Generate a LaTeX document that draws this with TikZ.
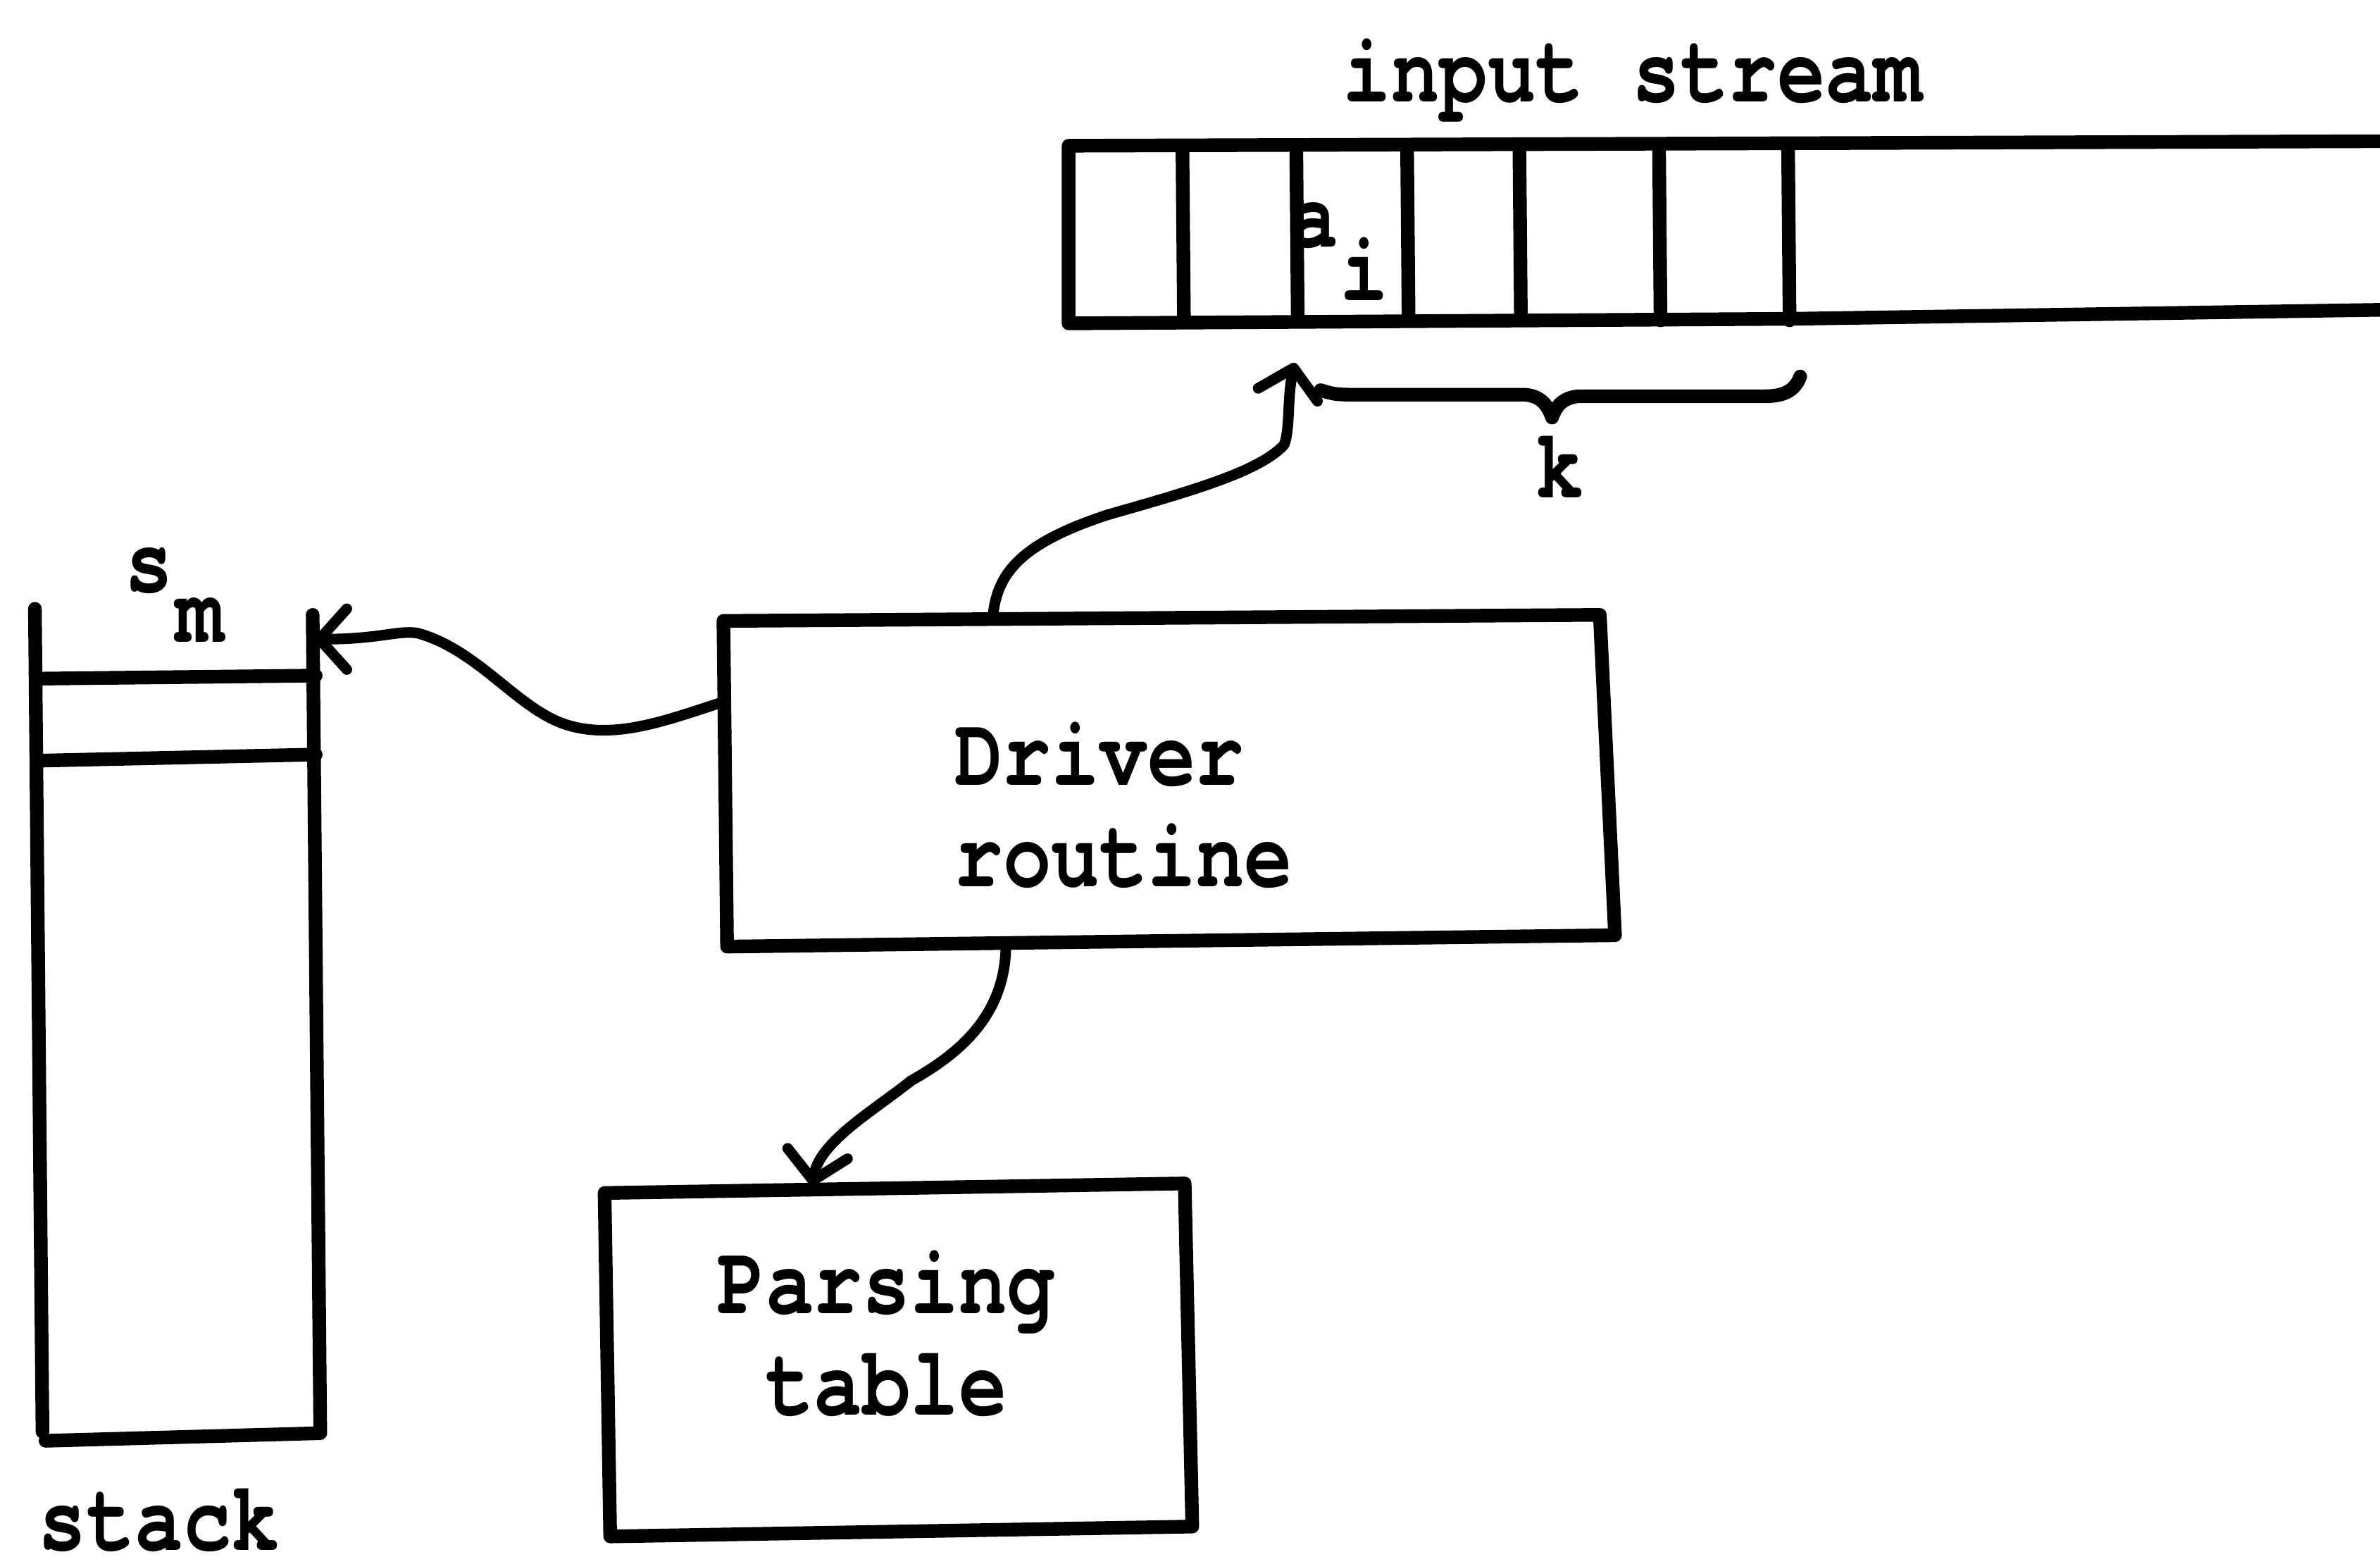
\documentclass[tikz,border=0pt]{standalone}
\usepackage{fontspec}
\newfontfamily\typewriter{texgyrecursor-bold.otf}[FakeStretch=0.815]
\usetikzlibrary{arrows.meta}
\begin{document}
\begin{tikzpicture}[x=1pt,y=-1pt,
  boxline/.style={line width=9pt, line join=round, line cap=round},
  wire/.style={line width=7pt, line join=round, line cap=round},
  tip/.style={-{Straight Barb[length=18pt,width=40pt,round]}},
  txt/.style={inner sep=0pt, anchor=base,
    font=\typewriter\fontsize{65}{67}\selectfont}]

% page
\fill[white] (0,0) rectangle (1568,1030);
\useasboundingbox (0,0) rectangle (1568,1030);

% ---------- input stream (tape) ----------
\node[txt] (inlabel) at (1075.5,67) {input stream};
\draw[boxline] (1574,93) -- (704,96) -- (704,213) -- (1180,210) -- (1574,204);
\foreach \x in {779,854,927,1001,1093,1178}
  \draw[boxline] (\x,96) -- (\x+1,211);
\node[txt] (acell) at (866,162.5) {a};
\node[txt] (acellsub) at (898.5,198) {i};
\coordinate (tapehead) at (853,239);

% lookahead brace
\draw[boxline] (870,257) .. controls (880,260) .. (900,260) -- (1005,260)
  .. controls (1016,261) and (1020,268) .. (1022.5,275)
  .. controls (1025,268) and (1029,262) .. (1040,261) -- (1163,261)
  .. controls (1177,261) and (1183,256) .. (1186,248);
\node[txt] (klabel) at (1027.8,328) {k};

% ---------- stack ----------
\draw[boxline] (23,401) -- (28,943);
\draw[boxline] (206,405) -- (211,944) -- (30,949);
\draw[boxline] (26,447) -- (208,445);
\draw[boxline] (27,501) -- (208,497);
\node[txt] (stop) at (98.2,389.8) {s};
\node[txt] (stopsub) at (131.9,423) {m};
\node[txt] (stacklabel) at (104.8,1021) {stack};
\coordinate (stacktop) at (207,421);

% ---------- driver routine ----------
\coordinate (dNW) at (476.6,409);
\coordinate (dNE) at (1054,405);
\coordinate (dSE) at (1064,616);
\coordinate (dSW) at (479,623.5);
\draw[boxline] (dNW) -- (dNE) -- (dSE) -- (dSW) -- cycle;
\node[txt] (drvA) at (724.3,517) {Driver};
\node[txt] (drvB) at (740.3,584) {routine};
\coordinate (drvtop) at (654,408);
\coordinate (drvleft) at (477.5,462);
\coordinate (drvbot) at (662.7,621.2);

% ---------- parsing table ----------
\coordinate (pNW) at (398.3,785.8);
\coordinate (pNE) at (780.5,779.5);
\coordinate (pSE) at (785.5,1005.5);
\coordinate (pSW) at (402,1012);
\draw[boxline] (pNW) -- (pNE) -- (pSE) -- (pSW) -- cycle;
\node[txt] (ptA) at (584,865.4) {Parsing};
\node[txt] (ptB) at (584,932) {table};
\coordinate (pttop) at (535,781);

% ---------- connectors ----------
\draw[wire,tip] (drvleft) .. controls (440,474) and (405,488) .. (372,477)
  .. controls (340,466) and (315,428) .. (275,417)
  .. controls (262,415) and (250,421) .. (stacktop);
\draw[wire,tip] (drvtop) .. controls (656,378) and (672,358) .. (730,339)
  .. controls (790,322) and (830,310) .. (846,293)
  .. controls (850,283) and (848,262) .. (tapehead);
\draw[wire,tip] (drvbot) .. controls (663,670) and (630,695) .. (600,712)
  .. controls (575,732) and (540,752) .. (pttop);
\end{tikzpicture}
\end{document}
